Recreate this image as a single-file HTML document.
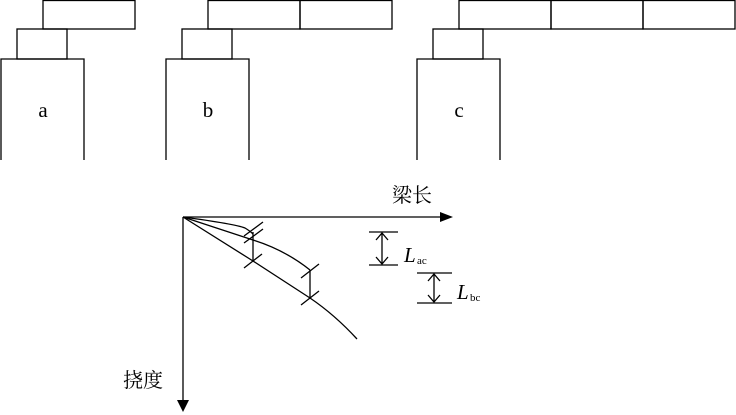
<!DOCTYPE html>
<html><head><meta charset="utf-8"><style>
html,body{margin:0;padding:0;background:#fff;}
</style></head><body>
<svg width="736" height="415" viewBox="0 0 736 415" xmlns="http://www.w3.org/2000/svg" style="display:block">
<g fill="none" stroke="#000" stroke-width="1.3">
<!-- a -->
<polyline points="1,160 1,59 84,59 84,160"/>
<rect x="17" y="29" width="50" height="30"/>
<rect x="43" y="0.5" width="92" height="28.5"/>
<!-- b -->
<polyline points="166,160 166,59 249,59 249,160"/>
<rect x="182" y="29" width="50" height="30"/>
<rect x="208" y="0.5" width="92" height="28.5"/>
<rect x="300" y="0.5" width="92" height="28.5"/>
<!-- c -->
<polyline points="417,160 417,59 500,59 500,160"/>
<rect x="433" y="29" width="50" height="30"/>
<rect x="459" y="0.5" width="92" height="28.5"/>
<rect x="551" y="0.5" width="92" height="28.5"/>
<rect x="643" y="0.5" width="92" height="28.5"/>
<!-- axes -->
<line x1="183" y1="217" x2="442" y2="217"/>
<line x1="183" y1="217" x2="183" y2="400"/>
<!-- curves -->
<path d="M183,217 L253,261 L310,298 Q335,315 357,339"/>
<path d="M183,217 Q235,224 245,228 Q250,231 253,234"/>
<path d="M183,217 L253,240 Q285,250 310,270"/>
<line x1="253" y1="232" x2="253" y2="261"/>
<line x1="310" y1="270" x2="310" y2="298"/>
<line x1="244" y1="236" x2="263" y2="222"/>
<line x1="244" y1="243" x2="263" y2="229"/>
<line x1="244" y1="268" x2="262" y2="254"/>
<line x1="301" y1="278" x2="319" y2="264"/>
<line x1="301" y1="305" x2="319" y2="291"/>
<!-- Lac -->
<line x1="369" y1="232" x2="398" y2="232"/>
<line x1="369" y1="265" x2="398" y2="265"/>
<polyline points="376,240 382,233 388,240"/>
<polyline points="376,257 382,264 388,257"/>
<line x1="382" y1="233" x2="382" y2="264"/>
<!-- Lbc -->
<line x1="417" y1="273" x2="452" y2="273"/>
<line x1="417" y1="303" x2="452" y2="303"/>
<polyline points="428,281 434,274 440,281"/>
<polyline points="428,295 434,302 440,295"/>
<line x1="434" y1="274" x2="434" y2="302"/>
</g>
<polygon points="440,212 453,217 440,222" fill="#000"/>
<polygon points="177,400 183,412 189,400" fill="#000"/>
<g font-family="Liberation Serif, serif" fill="#000">
<text x="43" y="117" font-size="21" text-anchor="middle">a</text>
<text x="208" y="117" font-size="21" text-anchor="middle">b</text>
<text x="459" y="117" font-size="21" text-anchor="middle">c</text>
<text x="404" y="262" font-size="21" font-style="italic">L</text>
<text x="417" y="264" font-size="11">ac</text>
<text x="457" y="299" font-size="21" font-style="italic">L</text>
<text x="470" y="301" font-size="11">bc</text>
</g>
<g font-family="Liberation Serif, 'Noto Serif CJK SC', serif" font-size="20" fill="#000">
<text x="392" y="202">梁长</text>
<text x="123" y="387">挠度</text>
</g>
</svg>
</body></html>
